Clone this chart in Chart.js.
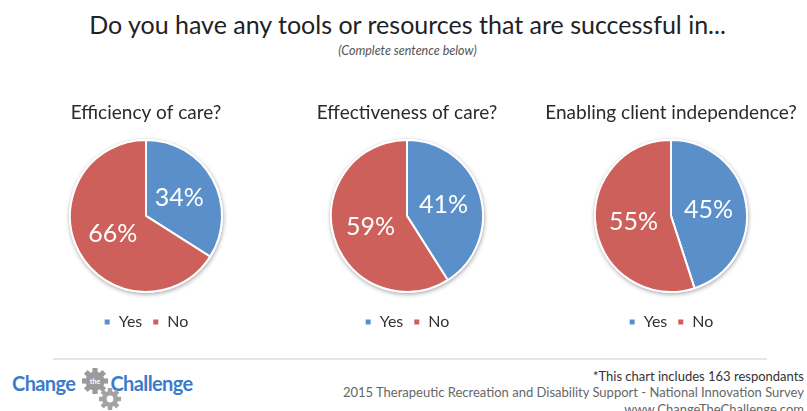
<!DOCTYPE html>
<html>
<head>
<meta charset="utf-8">
<script src="https://cdn.jsdelivr.net/npm/chart.js@4.4.1/dist/chart.umd.min.js"></script>
<style>
  html, body { margin:0; padding:0; background:#fff; width:807px; height:411px; overflow:hidden; font-family: Lato, "Open Sans", sans-serif; }
  .abs { position:absolute; }
  #mainTitle { left:0; width:815px; top:9px; text-align:center; font-size:25px; color:#222; white-space:nowrap; }
  #subTitle { left:0; width:815px; top:43px; text-align:center; font-size:12.5px; font-style:italic; color:#555; }
  .pieBox { top:95px; width:260px; height:253px; }
  #rule { left:53px; top:358px; width:714px; height:2px; background:#e6e6e6; }
  #logo { left:12px; top:371px; font-size:20px; font-weight:bold; color:#3b7bcb; letter-spacing:-0.6px; white-space:nowrap; }
  #gears { left:78px; top:368px; }
  .foot { right:3px; text-align:right; white-space:nowrap; font-size:13px; }
</style>
</head>
<body>
<div id="mainTitle" class="abs"></div>
<div id="subTitle" class="abs"></div>
<div class="abs pieBox" style="left:16px"><canvas id="pie0" width="260" height="253"></canvas></div>
<div class="abs pieBox" style="left:277px"><canvas id="pie1" width="260" height="253"></canvas></div>
<div class="abs pieBox" style="left:541px"><canvas id="pie2" width="260" height="253"></canvas></div>
<div id="rule" class="abs"></div>
<div id="logo" class="abs">Change<span style="display:inline-block;width:35px;"></span>Challenge</div>
<svg id="gears" class="abs" width="50" height="44" viewBox="0 0 50 44">
  <g transform="translate(17,13)" fill="#9b9b9b">
    <circle r="9.5"/>
    <g id="teeth">
      <rect x="-2.6" y="-13" width="5.2" height="5"/>
      <rect x="-2.6" y="-13" width="5.2" height="5" transform="rotate(45)"/>
      <rect x="-2.6" y="-13" width="5.2" height="5" transform="rotate(90)"/>
      <rect x="-2.6" y="-13" width="5.2" height="5" transform="rotate(135)"/>
      <rect x="-2.6" y="-13" width="5.2" height="5" transform="rotate(180)"/>
      <rect x="-2.6" y="-13" width="5.2" height="5" transform="rotate(225)"/>
      <rect x="-2.6" y="-13" width="5.2" height="5" transform="rotate(270)"/>
      <rect x="-2.6" y="-13" width="5.2" height="5" transform="rotate(315)"/>
    </g>
    <text x="0" y="2.5" font-size="7" font-family="Lato, sans-serif" font-weight="bold" fill="#fff" text-anchor="middle">the</text>
  </g>
  <g transform="translate(32,31) scale(0.85)" fill="#a3a3a3">
    <circle r="9.5"/>
    <use href="#teeth"/>
    <circle r="4" fill="#fff"/>
  </g>
</svg>
<div id="foot1" class="abs foot" style="top:368px;color:#333;"></div>
<div id="foot2" class="abs foot" style="top:384px;color:#666;"></div>
<div id="foot3" class="abs foot" style="top:401px;color:#666;"></div>

<script>
// ---- data ----
const mainTitle = 'Do you have any tools or resources that are successful in...';
const subTitle = '(Complete sentence below)';
const categories = ['Yes', 'No'];
const questions = ['Efficiency of care?', 'Effectiveness of care?', 'Enabling client independence?'];
const yesValues = [34, 41, 45];
const noValues = [66, 59, 55];
const sliceColors = ['#5b8fc9', '#cd605b'];
const footnotes = [
  '*This chart includes 163 respondants',
  '2015 Therapeutic Recreation and Disability Support - National Innovation Survey',
  'www.ChangeTheChallenge.com'
];

document.getElementById('mainTitle').textContent = mainTitle;
document.getElementById('subTitle').textContent = subTitle;
document.getElementById('foot1').textContent = footnotes[0];
document.getElementById('foot2').textContent = footnotes[1];
document.getElementById('foot3').textContent = footnotes[2];

const FONT = 'Lato, "Open Sans", sans-serif';

// soft shadow behind pie
const shadowPlugin = {
  id: 'pieShadow',
  beforeDatasetsDraw(chart) {
    const meta = chart.getDatasetMeta(0);
    if (!meta.data.length) return;
    const a = meta.data[0];
    const ctx = chart.ctx;
    ctx.save();
    ctx.shadowColor = 'rgba(0,0,0,0.35)';
    ctx.shadowBlur = 4;
    ctx.shadowOffsetX = 0.5;
    ctx.shadowOffsetY = 1.5;
    ctx.beginPath();
    ctx.arc(a.x, a.y, a.outerRadius + 1, 0, Math.PI * 2);
    ctx.fillStyle = '#fff';
    ctx.fill();
    ctx.restore();
  }
};

// percentage labels inside slices
const labelPlugin = {
  id: 'pctLabels',
  afterDatasetsDraw(chart) {
    const ctx = chart.ctx;
    const ds = chart.data.datasets[0];
    const meta = chart.getDatasetMeta(0);
    ctx.save();
    ctx.font = '25px ' + FONT;
    ctx.fillStyle = '#ffffff';
    ctx.textAlign = 'center';
    ctx.textBaseline = 'middle';
    meta.data.forEach((arc, i) => {
      const p = arc.tooltipPosition();
      ctx.fillText(ds.data[i] + '%', p.x, p.y);
    });
    ctx.restore();
  }
};

questions.forEach((q, i) => {
  new Chart(document.getElementById('pie' + i), {
    type: 'pie',
    data: {
      labels: categories,
      datasets: [{
        data: [yesValues[i], noValues[i]],
        backgroundColor: sliceColors,
        borderColor: '#ffffff',
        borderWidth: 2
      }]
    },
    options: {
      responsive: false,
      animation: false,
      radius: 76,
      layout: { padding: { top: 0, bottom: 8, left: 0, right: 0 } },
      plugins: {
        title: {
          display: true,
          text: q,
          color: '#2a2a2a',
          font: { size: 19, family: FONT, weight: 'normal' },
          padding: { top: 6, bottom: 4 }
        },
        legend: {
          position: 'bottom',
          labels: {
            boxWidth: 7,
            boxHeight: 7,
            padding: 10,
            color: '#333',
            font: { size: 16, family: FONT }
          }
        },
        tooltip: { enabled: false }
      }
    },
    plugins: [shadowPlugin, labelPlugin]
  });
});
</script>
</body>
</html>
